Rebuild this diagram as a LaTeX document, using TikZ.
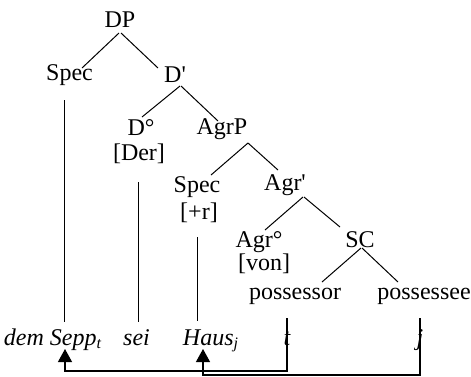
\documentclass[12pt,tikz,border=0pt]{standalone}
\usepackage{fontspec}
\setmainfont{Liberation Serif}[Ligatures=TeXOff]
\usetikzlibrary{calc,arrows.meta}

\tikzset{
  lbl/.style={inner sep=0pt, anchor=base, font=\fontsize{12}{14}\selectfont},
  word/.style={lbl, font=\fontsize{12}{14}\selectfont\itshape},
  branch/.style={line width=0.5pt},
  move/.style={line width=0.6pt, -{Triangle[width=7pt,length=6.5pt]}}
}

\begin{document}
\begin{tikzpicture}[x=0.5pt,y=-0.5pt]
  \useasboundingbox (0,0) rectangle (471,376);

  % tree labels
  \node[lbl] (dp) at (120,27) {DP};
  \node[lbl] (specA) at (69.5,80) {Spec};
  \node[lbl] (dbar) at (175,82) {D'};
  \node[lbl] (dzero) at (141,135) {D\textdegree};
  \node[lbl] (der) at (139,160) {[Der]};
  \node[lbl] (agrp) at (222,134) {AgrP};
  \node[lbl] (specB) at (197,192) {Spec};
  \node[lbl] (plusr) at (199,219) {[+r]};
  \node[lbl] (agrbar) at (285,190) {Agr'};
  \node[lbl] (agrzero) at (259,247) {Agr\textdegree};
  \node[lbl] (von) at (264,270) {[von]};
  \node[lbl] (sc) at (360,247) {SC};
  \node[lbl] (possessor) at (295,299) {possessor};
  \node[lbl] (possessee) at (424,299) {possessee};

  % the sentence
  \node[word] (sepp) at (53,345) {dem Sepp\textsubscript{t}};
  \node[word] (sei) at (136.5,345) {sei};
  \node[word] (haus) at (211,345) {Haus\textsubscript{j}};
  \node[word] (t) at (287,345) {t};
  \node[word] (j) at (420,345) {j};

  % branches
  \draw[branch] ($(dp.base)+(-1,6)$) -- ($(specA.base)+(12.5,-12)$);
  \draw[branch] ($(dp.base)+(1,6)$) -- ($(dbar.base)+(-17,-14)$);
  \draw[branch] ($(dbar.base)+(5,4)$) -- ($(dzero.base)+(1,-18)$);
  \draw[branch] ($(dbar.base)+(6,4)$) -- ($(agrp.base)+(-4,-13)$);
  \draw[branch] ($(agrp.base)+(26,9)$) -- ($(specB.base)+(14,-17)$);
  \draw[branch] ($(agrp.base)+(26,9)$) -- ($(agrbar.base)+(-7,-20)$);
  \draw[branch] ($(agrbar.base)+(18,7)$) -- ($(agrzero.base)+(6,-17)$);
  \draw[branch] ($(agrbar.base)+(19,7)$) -- ($(sc.base)+(-20,-20)$);
  \draw[branch] ($(sc.base)+(1,1)$) -- ($(possessor.base)+(27,-17)$);
  \draw[branch] ($(sc.base)+(2,1)$) -- ($(possessee.base)+(-26,-17)$);

  % links down to the words
  \draw[branch] ($(specA.base)+(-5.5,20)$) -- ($(sepp.base)+(11,-23)$);
  \draw[branch] ($(der.base)+(-1,22)$) -- ($(sei.base)+(1.5,-23)$);
  \draw[branch] ($(plusr.base)+(-2,18)$) -- ($(haus.base)+(-14,-24)$);

  % movement
  \draw[move] ($(t.base)+(0,-27)$) -- ($(t.base)+(0,26)$) -| ($(sepp.base)+(12,4)$);
  \draw[move] ($(j.base)+(0,-27)$) -- ($(j.base)+(0,30)$) -| ($(haus.base)+(-8,4)$);
\end{tikzpicture}
\end{document}
